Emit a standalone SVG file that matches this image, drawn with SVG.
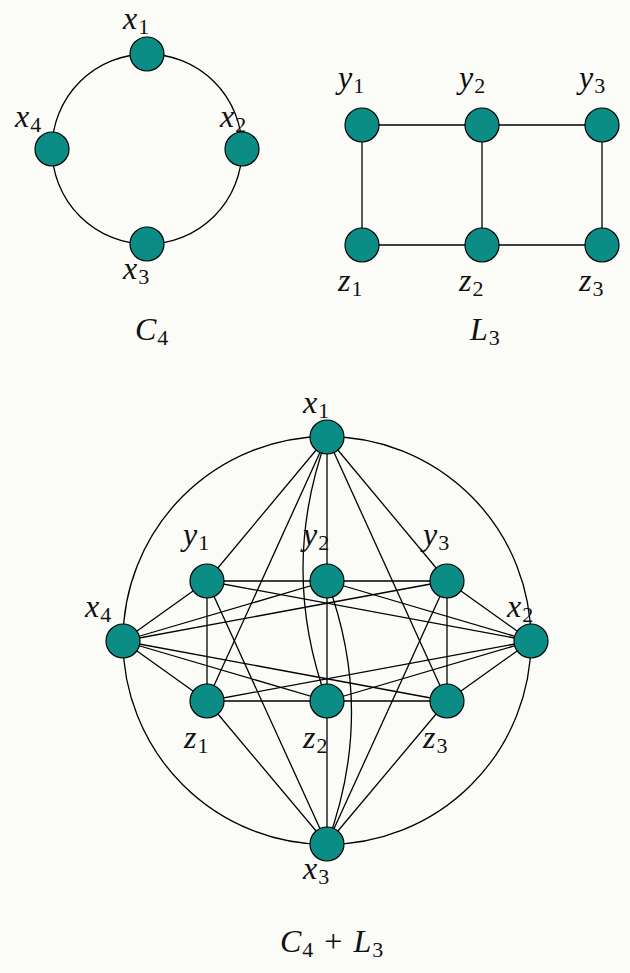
<svg xmlns="http://www.w3.org/2000/svg" width="630" height="973" viewBox="0 0 630 973">
<style>
.e{stroke:#000;stroke-width:1.3;fill:none}
.n{fill:#0b8c84;stroke:#000;stroke-width:1.2}
text{font-family:"Liberation Serif","Times New Roman",serif;font-size:32px;fill:#111}
.i{font-style:italic}
.s{font-size:22px}
</style>
<rect width="630" height="973" fill="#fbfbf7"/>
<g id="connectors">
  <!-- C4 -->
  <circle class="e" cx="147" cy="149" r="95"/>
  <!-- L3 -->
  <line class="e" x1="362" y1="125" x2="602" y2="125"/>
  <line class="e" x1="362" y1="245" x2="602" y2="245"/>
  <line class="e" x1="362" y1="125" x2="362" y2="245"/>
  <line class="e" x1="482" y1="125" x2="482" y2="245"/>
  <line class="e" x1="602" y1="125" x2="602" y2="245"/>
  <!-- C4 + L3 -->
  <circle class="e" cx="327" cy="640.5" r="204"/>
  <line class="e" x1="207" y1="581" x2="447" y2="581"/>
  <line class="e" x1="207" y1="701" x2="447" y2="701"/>
  <line class="e" x1="207" y1="581" x2="207" y2="701"/>
  <line class="e" x1="327" y1="581" x2="327" y2="701"/>
  <line class="e" x1="447" y1="581" x2="447" y2="701"/>
  <!-- x1 -->
  <line class="e" x1="327" y1="437" x2="207" y2="581"/>
  <line class="e" x1="327" y1="437" x2="327" y2="581"/>
  <line class="e" x1="327" y1="437" x2="447" y2="581"/>
  <line class="e" x1="327" y1="437" x2="207" y2="701"/>
  <line class="e" x1="327" y1="437" x2="447" y2="701"/>
  <path class="e" d="M327,437 Q279,569 327,701"/>
  <!-- x3 -->
  <line class="e" x1="327" y1="844" x2="207" y2="701"/>
  <line class="e" x1="327" y1="844" x2="327" y2="701"/>
  <line class="e" x1="327" y1="844" x2="447" y2="701"/>
  <line class="e" x1="327" y1="844" x2="207" y2="581"/>
  <line class="e" x1="327" y1="844" x2="447" y2="581"/>
  <path class="e" d="M327,581 Q376,712 327,844"/>
  <!-- x4 -->
  <line class="e" x1="123" y1="641" x2="207" y2="581"/>
  <line class="e" x1="123" y1="641" x2="327" y2="581"/>
  <line class="e" x1="123" y1="641" x2="447" y2="581"/>
  <line class="e" x1="123" y1="641" x2="207" y2="701"/>
  <line class="e" x1="123" y1="641" x2="327" y2="701"/>
  <line class="e" x1="123" y1="641" x2="447" y2="701"/>
  <!-- x2 -->
  <line class="e" x1="531" y1="641" x2="207" y2="581"/>
  <line class="e" x1="531" y1="641" x2="327" y2="581"/>
  <line class="e" x1="531" y1="641" x2="447" y2="581"/>
  <line class="e" x1="531" y1="641" x2="207" y2="701"/>
  <line class="e" x1="531" y1="641" x2="327" y2="701"/>
  <line class="e" x1="531" y1="641" x2="447" y2="701"/>
</g>
<!-- C4 nodes -->
<g id="c4-x1"><circle class="n" cx="147" cy="54" r="17"/><text x="123" y="29"><tspan class="i">x</tspan><tspan class="s" dx="1" dy="5">1</tspan></text></g>
<g id="c4-x2"><circle class="n" cx="242" cy="149" r="17"/><text x="220" y="127"><tspan class="i">x</tspan><tspan class="s" dx="1" dy="5">2</tspan></text></g>
<g id="c4-x3"><circle class="n" cx="147" cy="244" r="17"/><text x="123" y="279"><tspan class="i">x</tspan><tspan class="s" dx="1" dy="5">3</tspan></text></g>
<g id="c4-x4"><circle class="n" cx="52" cy="149" r="17"/><text x="15" y="127"><tspan class="i">x</tspan><tspan class="s" dx="1" dy="5">4</tspan></text></g>
<g id="c4-label"><text x="135" y="340"><tspan class="i">C</tspan><tspan class="s" dx="1" dy="5">4</tspan></text></g>
<!-- L3 nodes -->
<g id="l3-y1"><circle class="n" cx="362" cy="125" r="17"/><text x="338" y="88"><tspan class="i">y</tspan><tspan class="s" dx="1" dy="5">1</tspan></text></g>
<g id="l3-y2"><circle class="n" cx="482" cy="125" r="17"/><text x="459" y="88"><tspan class="i">y</tspan><tspan class="s" dx="1" dy="5">2</tspan></text></g>
<g id="l3-y3"><circle class="n" cx="602" cy="125" r="17"/><text x="579" y="88"><tspan class="i">y</tspan><tspan class="s" dx="1" dy="5">3</tspan></text></g>
<g id="l3-z1"><circle class="n" cx="362" cy="245" r="17"/><text x="338" y="291"><tspan class="i">z</tspan><tspan class="s" dx="1" dy="5">1</tspan></text></g>
<g id="l3-z2"><circle class="n" cx="482" cy="245" r="17"/><text x="459" y="291"><tspan class="i">z</tspan><tspan class="s" dx="1" dy="5">2</tspan></text></g>
<g id="l3-z3"><circle class="n" cx="602" cy="245" r="17"/><text x="579" y="291"><tspan class="i">z</tspan><tspan class="s" dx="1" dy="5">3</tspan></text></g>
<g id="l3-label"><text x="470" y="340"><tspan class="i">L</tspan><tspan class="s" dx="1" dy="5">3</tspan></text></g>
<!-- C4 + L3 nodes -->
<g id="x1"><circle class="n" cx="327" cy="437" r="17"/><text x="303" y="413"><tspan class="i">x</tspan><tspan class="s" dx="1" dy="5">1</tspan></text></g>
<g id="x2"><circle class="n" cx="531" cy="641" r="17"/><text x="507" y="617"><tspan class="i">x</tspan><tspan class="s" dx="1" dy="5">2</tspan></text></g>
<g id="x3"><circle class="n" cx="327" cy="844" r="17"/><text x="303" y="879"><tspan class="i">x</tspan><tspan class="s" dx="1" dy="5">3</tspan></text></g>
<g id="x4"><circle class="n" cx="123" cy="641" r="17"/><text x="85" y="617"><tspan class="i">x</tspan><tspan class="s" dx="1" dy="5">4</tspan></text></g>
<g id="y1"><circle class="n" cx="207" cy="581" r="17"/><text x="183" y="545"><tspan class="i">y</tspan><tspan class="s" dx="1" dy="5">1</tspan></text></g>
<g id="y2"><circle class="n" cx="327" cy="581" r="17"/><text x="303" y="545"><tspan class="i">y</tspan><tspan class="s" dx="1" dy="5">2</tspan></text></g>
<g id="y3"><circle class="n" cx="447" cy="581" r="17"/><text x="423" y="545"><tspan class="i">y</tspan><tspan class="s" dx="1" dy="5">3</tspan></text></g>
<g id="z1"><circle class="n" cx="207" cy="701" r="17"/><text x="184" y="748"><tspan class="i">z</tspan><tspan class="s" dx="1" dy="5">1</tspan></text></g>
<g id="z2"><circle class="n" cx="327" cy="701" r="17"/><text x="303" y="748"><tspan class="i">z</tspan><tspan class="s" dx="1" dy="5">2</tspan></text></g>
<g id="z3"><circle class="n" cx="447" cy="701" r="17"/><text x="423" y="748"><tspan class="i">z</tspan><tspan class="s" dx="1" dy="5">3</tspan></text></g>
<g id="join-label"><text x="280" y="952"><tspan class="i">C</tspan><tspan class="s" dx="1" dy="5">4</tspan><tspan dx="11" dy="-5">+</tspan><tspan class="i" dx="11">L</tspan><tspan class="s" dx="1" dy="5">3</tspan></text></g>
</svg>
